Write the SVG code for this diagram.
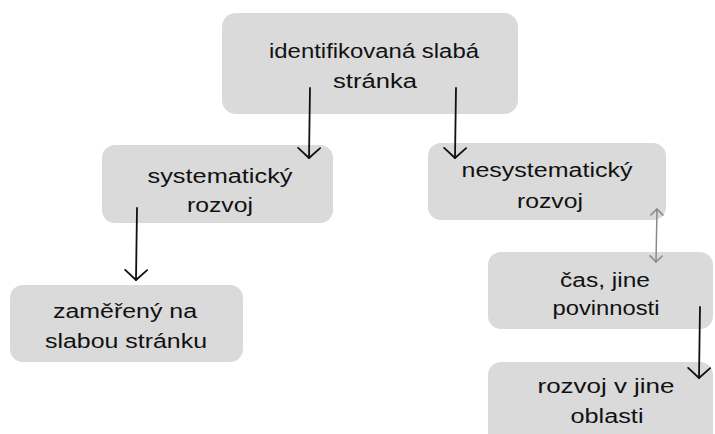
<svg xmlns="http://www.w3.org/2000/svg" width="715" height="434" viewBox="0 0 715 434">
<style>
.box{fill:#dadada;stroke:none}
.t{font-family:"Liberation Sans",Arial,sans-serif;font-size:20px;fill:#111;text-anchor:middle}
.arr{stroke:#111;stroke-width:1.8;fill:none;stroke-linecap:round}
.arr2{stroke:#8a8a8a;stroke-width:1.5;fill:none;stroke-linecap:round}
</style>
<defs>
<marker id="head" viewBox="0 0 12 24" refX="11" refY="12" markerWidth="12" markerHeight="24" markerUnits="userSpaceOnUse" orient="auto">
<path d="M1,1 L11,12 L1,23" fill="none" stroke="#111" stroke-width="1.8" stroke-linecap="round" stroke-linejoin="round"/>
</marker>
<marker id="headg" viewBox="0 0 8 14" refX="7" refY="7" markerWidth="8" markerHeight="14" markerUnits="userSpaceOnUse" orient="auto-start-reverse">
<path d="M1,1 L7,7 L1,13" fill="none" stroke="#8a8a8a" stroke-width="1.5" stroke-linecap="round" stroke-linejoin="round"/>
</marker>
</defs>
<rect width="715" height="434" fill="#fff"/>
<g id="n-top">
<rect class="box" x="222" y="13" width="296" height="101" rx="14"/>
<text class="t" x="374" y="58" textLength="210" lengthAdjust="spacingAndGlyphs">identifikovaná slabá</text>
<text class="t" x="375" y="88" textLength="84" lengthAdjust="spacingAndGlyphs">stránka</text>
</g>
<g id="n-sys">
<rect class="box" x="102" y="145" width="231" height="78" rx="13"/>
<text class="t" x="220" y="183" textLength="145" lengthAdjust="spacingAndGlyphs">systematický</text>
<text class="t" x="220" y="212" textLength="66" lengthAdjust="spacingAndGlyphs">rozvoj</text>
</g>
<g id="n-nesys">
<rect class="box" x="428" y="143" width="238" height="77" rx="13"/>
<text class="t" x="547" y="177" textLength="171" lengthAdjust="spacingAndGlyphs">nesystematický</text>
<text class="t" x="550" y="208" textLength="66" lengthAdjust="spacingAndGlyphs">rozvoj</text>
</g>
<g id="n-zam">
<rect class="box" x="10" y="285" width="233" height="77" rx="13"/>
<text class="t" x="125" y="318" textLength="144" lengthAdjust="spacingAndGlyphs">zaměřený na</text>
<text class="t" x="126" y="348" textLength="162" lengthAdjust="spacingAndGlyphs">slabou stránku</text>
</g>
<g id="n-cas">
<rect class="box" x="488" y="252" width="225" height="77" rx="13"/>
<text class="t" x="605" y="287" textLength="90" lengthAdjust="spacingAndGlyphs">čas, jine</text>
<text class="t" x="606" y="315" textLength="107" lengthAdjust="spacingAndGlyphs">povinnosti</text>
</g>
<g id="n-jine">
<rect class="box" x="488" y="362" width="225" height="90" rx="13"/>
<text class="t" x="606" y="393" textLength="137" lengthAdjust="spacingAndGlyphs">rozvoj v jine</text>
<text class="t" x="607" y="423" textLength="73" lengthAdjust="spacingAndGlyphs">oblasti</text>
</g>
<g id="connectors">
<path class="arr" d="M310,88 L309,158" marker-end="url(#head)"/>
<path class="arr" d="M456,88 L455,158" marker-end="url(#head)"/>
<path class="arr" d="M137,208 L136,280" marker-end="url(#head)"/>
<path class="arr" d="M700,307 L699,378" marker-end="url(#head)"/>
<path class="arr2" d="M657,209 L656,262" marker-start="url(#headg)" marker-end="url(#headg)"/>
</g>
</svg>
